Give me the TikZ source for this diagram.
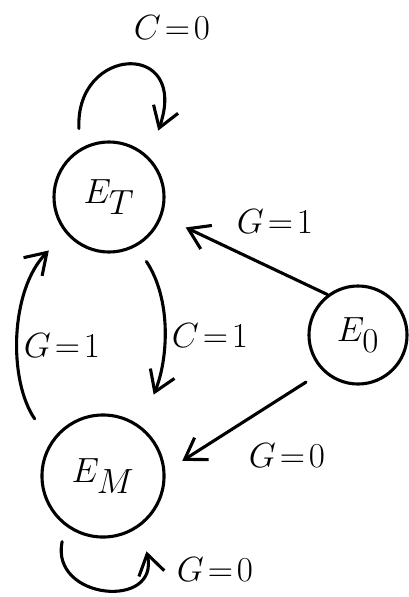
\documentclass[tikz,border=0pt]{standalone}
\usetikzlibrary{arrows.meta}
\begin{document}
\begin{tikzpicture}[x=0.025cm, y=-0.025cm, line width=2.2pt,
    state/.style={draw, circle, inner sep=0pt, font=\fontsize{40}{44}\selectfont},
    edge/.style={-{Straight Barb[length=5mm,width=6.5mm]}, line cap=round},
    lbl/.style={font=\fontsize{29}{32}\selectfont}]
    \useasboundingbox (0,0) rectangle (408,597);
    % states
    \node [state, minimum size=2.75cm] (ET) at (109,197) {$E_T$};
    \node [state, minimum size=2.45cm] (E0) at (358,335) {$E_0$};
    \node [state, minimum size=3.05cm] (EM) at (103,476) {$E_M$};
    % transitions
    \draw [edge, shorten <=0.5cm, shorten >=0.7cm] (ET.121) .. controls (75,45) and (190,40) .. (ET.45);
    \draw [edge, shorten >=0.65cm] (E0.127) -- (ET.-20);
    \draw [edge, shorten <=0.45cm, shorten >=0.85cm] (ET.-61) .. controls (172,300) and (168,360) .. (EM.53);
    \draw [edge, shorten <=0.7cm, shorten >=0.6cm] (EM.147) .. controls (8,380) and (10,290) .. (ET.-140);
    \draw [edge, shorten <=0.5cm, shorten >=0.5cm] (E0.-134) -- (EM.4);
    \draw [edge, shorten <=0.4cm, shorten >=0.65cm] (EM.-127) .. controls (50,600) and (160,610) .. (EM.-53);
    % labels
    \node [lbl] (lc0) at (172,28) {$C\!=\!0$};
    \node [lbl] (lg1a) at (275,222) {$G\!=\!1$};
    \node [lbl] (lc1) at (210,336) {$C\!=\!1$};
    \node [lbl] (lg1b) at (62,346) {$G\!=\!1$};
    \node [lbl] (lg0a) at (287,456) {$G\!=\!0$};
    \node [lbl] (lg0b) at (215,570) {$G\!=\!0$};
\end{tikzpicture}
\end{document}
